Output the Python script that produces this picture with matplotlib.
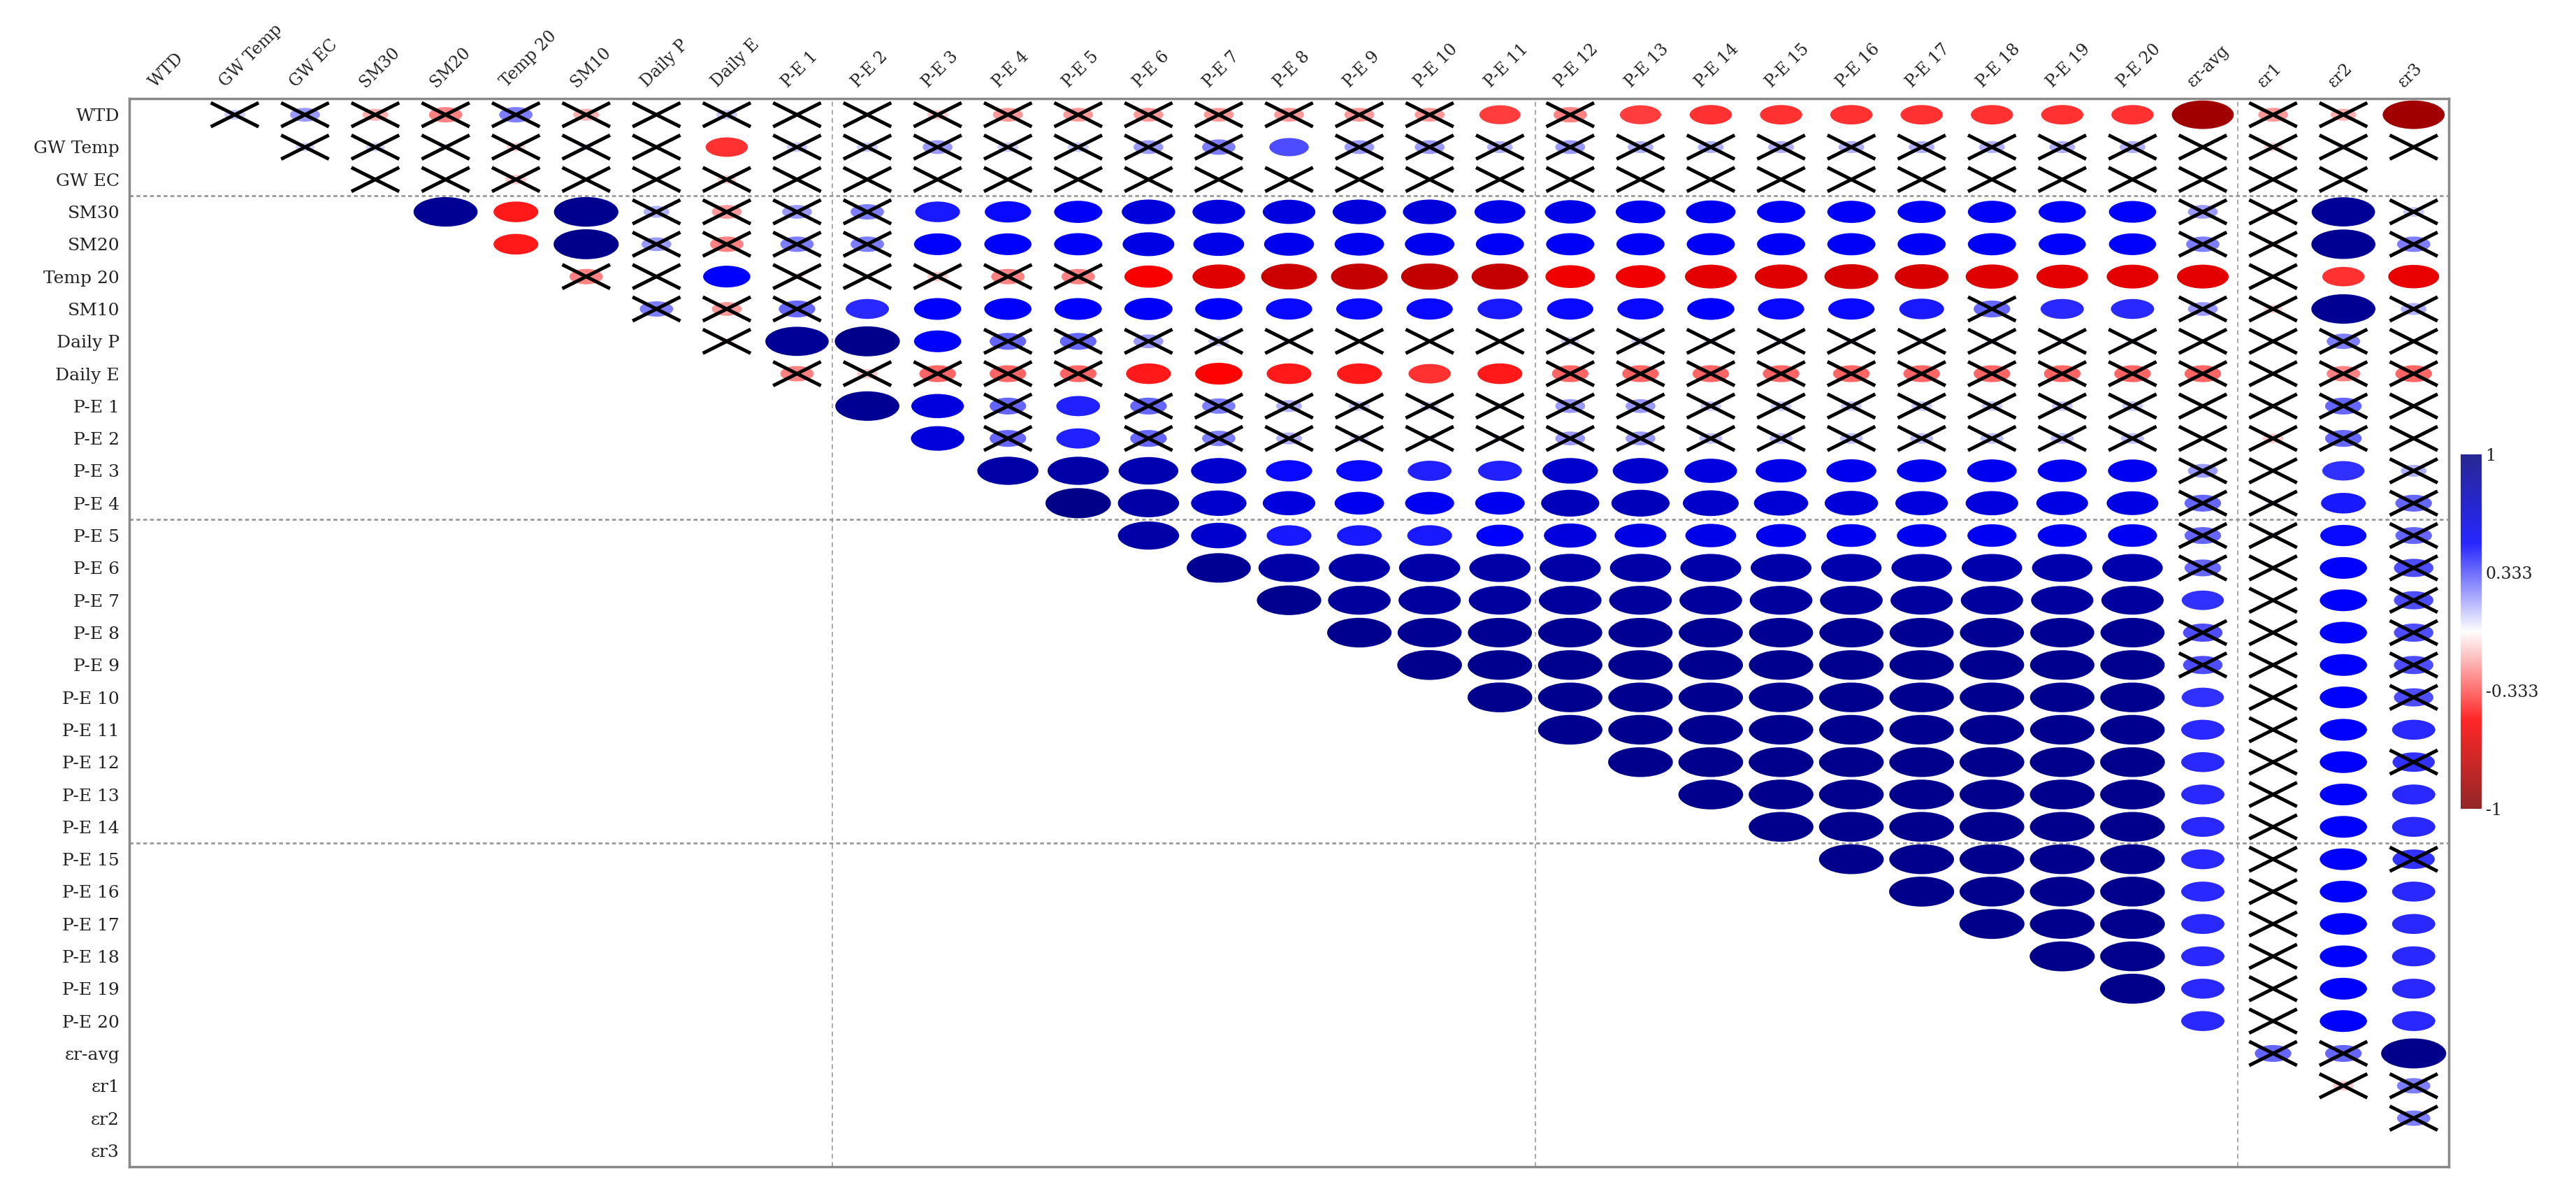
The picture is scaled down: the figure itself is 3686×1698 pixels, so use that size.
import numpy as np
import matplotlib
matplotlib.use('Agg')
import matplotlib.pyplot as plt
from matplotlib.colors import LinearSegmentedColormap
from matplotlib.patches import Ellipse

# ── Data ───────────────────────────────────────────────────────────────────────
labels = ['WTD', 'GW Temp', 'GW EC', 'SM30', 'SM20', 'Temp 20', 'SM10',
          'Daily P', 'Daily E'] + [f'P-E {i}' for i in range(1, 21)] + \
         ['εr-avg', 'εr1', 'εr2', 'εr3']

# upper triangle, row r holds columns r+1 .. 32
upper = [
    [0.1, 0.2, -0.15, -0.25, 0.25, -0.15, 0.0, 0.1, 0.0,
     0.0, -0.1, -0.2, -0.2, -0.2, -0.2, -0.2, -0.2, -0.2, -0.38,
     -0.25, -0.38, -0.4, -0.4, -0.4, -0.4, -0.4, -0.4, -0.4,
     -0.86, -0.2, -0.15, -0.86],
    [0.08, 0.08, 0.05, -0.08, 0.05, 0.03, -0.4, 0.1,
     0.1, 0.2, 0.1, 0.1, 0.2, 0.25, 0.35, 0.2, 0.2, 0.15,
     0.2, 0.15, 0.15, 0.15, 0.15, 0.15, 0.15, 0.15, 0.15,
     0.0, -0.08, 0.05, -0.03],
    [0.0, 0.0, -0.1, 0.0, 0.0, -0.08,
     0.0, 0.0, 0.0, 0.0, 0.0, 0.0, 0.0, 0.0, 0.0, 0.0,
     0.0, 0.0, 0.0, 0.0, 0.0, 0.0, 0.0, 0.0, 0.0,
     0.0, 0.0, 0.0, 0.0],
    [0.92, -0.45, 0.93, 0.15, -0.2, 0.2,
     0.25, 0.45, 0.48, 0.52, 0.64, 0.62, 0.62, 0.64, 0.64, 0.58,
     0.58, 0.55, 0.55, 0.52, 0.52, 0.52, 0.52, 0.5, 0.5,
     0.2, -0.05, 0.9, 0.1],
    [-0.45, 0.95, 0.2, -0.25, 0.25,
     0.25, 0.5, 0.5, 0.52, 0.6, 0.58, 0.56, 0.55, 0.55, 0.52,
     0.52, 0.52, 0.52, 0.52, 0.52, 0.52, 0.52, 0.5, 0.5,
     0.25, -0.05, 0.92, 0.25],
    [-0.25, 0.0, 0.5, -0.05,
     0.0, -0.1, -0.25, -0.25, -0.52, -0.62, -0.7, -0.72, -0.73, -0.72,
     -0.55, -0.55, -0.6, -0.62, -0.65, -0.65, -0.62, -0.6, -0.6,
     -0.6, 0.0, -0.4, -0.58],
    [0.25, -0.2, 0.3,
     0.42, 0.5, 0.5, 0.5, 0.52, 0.5, 0.48, 0.48, 0.48, 0.45,
     0.48, 0.48, 0.5, 0.48, 0.48, 0.45, 0.3, 0.42, 0.42,
     0.2, -0.08, 0.92, 0.15],
    [-0.05, 0.9,
     0.95, 0.5, 0.3, 0.3, 0.2, 0.1, 0.05, 0.02, 0.02, 0.02,
     0.08, 0.08, 0.05, 0.05, 0.05, 0.05, 0.05, 0.05, 0.05,
     0.02, -0.03, 0.25, 0.02],
    [-0.25,
     -0.1, -0.3, -0.3, -0.3, -0.45, -0.5, -0.45, -0.45, -0.4, -0.45,
     -0.3, -0.3, -0.3, -0.3, -0.3, -0.3, -0.3, -0.3, -0.3,
     -0.3, 0.0, -0.25, -0.3],
    [0.92, 0.62, 0.3, 0.43, 0.3, 0.25, 0.15, 0.1, 0.08, 0.05,
     0.2, 0.2, 0.1, 0.1, 0.1, 0.1, 0.1, 0.1, 0.1,
     0.02, 0.02, 0.3, 0.02],
    [0.64, 0.3, 0.43, 0.3, 0.25, 0.15, 0.08, 0.05, 0.05,
     0.2, 0.2, 0.12, 0.12, 0.12, 0.12, 0.12, 0.12, 0.12,
     0.02, -0.1, 0.3, 0.02],
    [0.84, 0.84, 0.8, 0.69, 0.48, 0.48, 0.43, 0.43,
     0.69, 0.69, 0.62, 0.58, 0.56, 0.55, 0.55, 0.54, 0.54,
     0.2, 0.02, 0.4, 0.15],
    [0.96, 0.84, 0.69, 0.62, 0.55, 0.54, 0.55,
     0.76, 0.76, 0.7, 0.66, 0.64, 0.62, 0.62, 0.6, 0.6,
     0.3, 0.05, 0.45, 0.3],
    [0.84, 0.69, 0.45, 0.45, 0.45, 0.5,
     0.62, 0.6, 0.58, 0.56, 0.55, 0.55, 0.54, 0.54, 0.54,
     0.3, 0.05, 0.48, 0.3],
    [0.92, 0.84, 0.84, 0.84, 0.84,
     0.84, 0.84, 0.83, 0.83, 0.82, 0.82, 0.82, 0.82, 0.82,
     0.3, 0.0, 0.5, 0.35],
    [0.93, 0.88, 0.87, 0.87,
     0.88, 0.88, 0.88, 0.88, 0.88, 0.87, 0.87, 0.87, 0.87,
     0.4, 0.0, 0.5, 0.35],
    [0.93, 0.92, 0.92,
     0.92, 0.92, 0.92, 0.92, 0.92, 0.92, 0.92, 0.92, 0.92,
     0.35, 0.0, 0.5, 0.35],
    [0.94, 0.93,
     0.93, 0.93, 0.93, 0.93, 0.93, 0.93, 0.93, 0.93, 0.93,
     0.35, 0.0, 0.5, 0.35],
    [0.94,
     0.93, 0.93, 0.93, 0.93, 0.93, 0.93, 0.93, 0.93, 0.93,
     0.4, 0.0, 0.5, 0.35],
    [0.93, 0.93, 0.93, 0.93, 0.93, 0.93, 0.93, 0.93, 0.93,
     0.42, 0.03, 0.5, 0.42],
    [0.94, 0.94, 0.94, 0.94, 0.94, 0.94, 0.94, 0.94,
     0.42, 0.0, 0.5, 0.4],
    [0.94, 0.94, 0.94, 0.94, 0.94, 0.94, 0.94,
     0.42, 0.0, 0.5, 0.42],
    [0.94, 0.94, 0.94, 0.94, 0.94, 0.94,
     0.42, 0.0, 0.5, 0.42],
    [0.94, 0.94, 0.94, 0.94, 0.94,
     0.42, 0.0, 0.5, 0.4],
    [0.95, 0.94, 0.94, 0.94,
     0.42, 0.0, 0.5, 0.42],
    [0.95, 0.94, 0.94,
     0.42, 0.0, 0.5, 0.42],
    [0.95, 0.94,
     0.42, 0.0, 0.5, 0.42],
    [0.95,
     0.42, 0.0, 0.5, 0.42],
    [0.42, 0.0, 0.5, 0.42],
    [0.3, 0.3, 0.95],
    [-0.1, 0.25],
    [0.25],
]

# non-significant cells (drawn with a cross), row -> columns
non_sig = {
    0: list(range(1, 19)) + [20, 30, 31],
    1: [c for c in range(2, 33) if c not in (8, 16)],
    2: list(range(3, 33)),
    3: [7, 8, 9, 10, 29, 30, 32],
    4: [7, 8, 9, 10, 29, 30, 32],
    5: [6, 7, 9, 10, 11, 12, 13, 30],
    6: [7, 8, 9, 26, 29, 30, 32],
    7: [8] + list(range(12, 33)),
    8: list(range(9, 14)) + list(range(20, 33)),
    9: [12] + list(range(14, 33)),
    10: [12] + list(range(14, 33)),
    11: [29, 30, 32], 12: [29, 30, 32], 13: [29, 30, 32], 14: [29, 30, 32],
    15: [30, 32], 16: [29, 30, 32], 17: [29, 30, 32], 18: [30, 32],
    19: [30], 20: [30, 32], 21: [30], 22: [30], 23: [30, 32],
    24: [30], 25: [30], 26: [30], 27: [30], 28: [30],
    29: [30, 31], 30: [31, 32], 31: [32],
}

cbar_ticks = [-1, -0.333, 0.333, 1]
cbar_labels = ['-1', '-0.333', '0.333', '1']

# ── Plot ───────────────────────────────────────────────────────────────────────
plt.rcParams['font.family'] = ['DejaVu Serif']
cmap = LinearSegmentedColormap.from_list(
    'corr', ['#7F0000', '#FF0000', '#FFFFFF', '#0000FF', '#00007F'])

W, H = 3687, 1698
fig = plt.figure(figsize=(W / 100, H / 100), dpi=100)
ax = fig.add_axes([185 / W, (H - 1669) / H, (3504 - 185) / W, (1669 - 141) / H])
n = len(labels)
ax.set_xlim(-0.5, n - 0.5)
ax.set_ylim(n - 0.5, -0.5)

# block separators
for b in (10, 20, 30):
    ax.axvline(b - 0.5, color='#999999', ls=(0, (4, 3)), lw=1.2, zorder=1)
for b in (3, 13, 23):
    ax.axhline(b - 0.5, color='#999999', ls=(0, (2, 1.5)), lw=2.0, zorder=1)

for r, row in enumerate(upper):
    for k, v in enumerate(row):
        c = r + 1 + k
        d = 0.95 * np.sqrt(abs(v))
        if d > 0.01:
            ax.add_patch(Ellipse((c, r), d, d, color=cmap((v + 1) / 2),
                                 lw=0, zorder=2))
        if c in non_sig.get(r, []):
            ax.plot([c - 0.34, c + 0.34], [r - 0.37, r + 0.37],
                    color='black', lw=3.6, zorder=3, solid_capstyle='butt')
            ax.plot([c - 0.34, c + 0.34], [r + 0.37, r - 0.37],
                    color='black', lw=3.6, zorder=3, solid_capstyle='butt')

ax.set_xticks([])
ax.set_yticks(range(n))
ax.set_yticklabels(labels, fontsize=18, color='#222222')
ax.tick_params(axis='y', length=0, pad=10)
for i, lab in enumerate(labels):
    ax.text(i - 0.1, -0.75, lab, rotation=45, rotation_mode='anchor',
            ha='left', va='bottom', fontsize=17, color='#222222')
for s in ax.spines.values():
    s.set_color('#888888')
    s.set_linewidth(2.5)

# colourbar
cax = fig.add_axes([3521 / W, 1 - 1157 / H, 30 / W, (1157 - 650) / H])
grad = np.linspace(-1, 1, 256).reshape(-1, 1)
cax.imshow(grad, cmap=cmap, aspect='auto', origin='lower',
           extent=[0, 1, -1, 1], alpha=0.85)
cax.set_xticks([])
cax.yaxis.tick_right()
cax.set_yticks(cbar_ticks)
cax.set_yticklabels(cbar_labels, fontsize=17, color='#222222')
cax.tick_params(axis='y', length=0, pad=4)
for s in cax.spines.values():
    s.set_visible(False)

fig.savefig('out.png', dpi=100)
